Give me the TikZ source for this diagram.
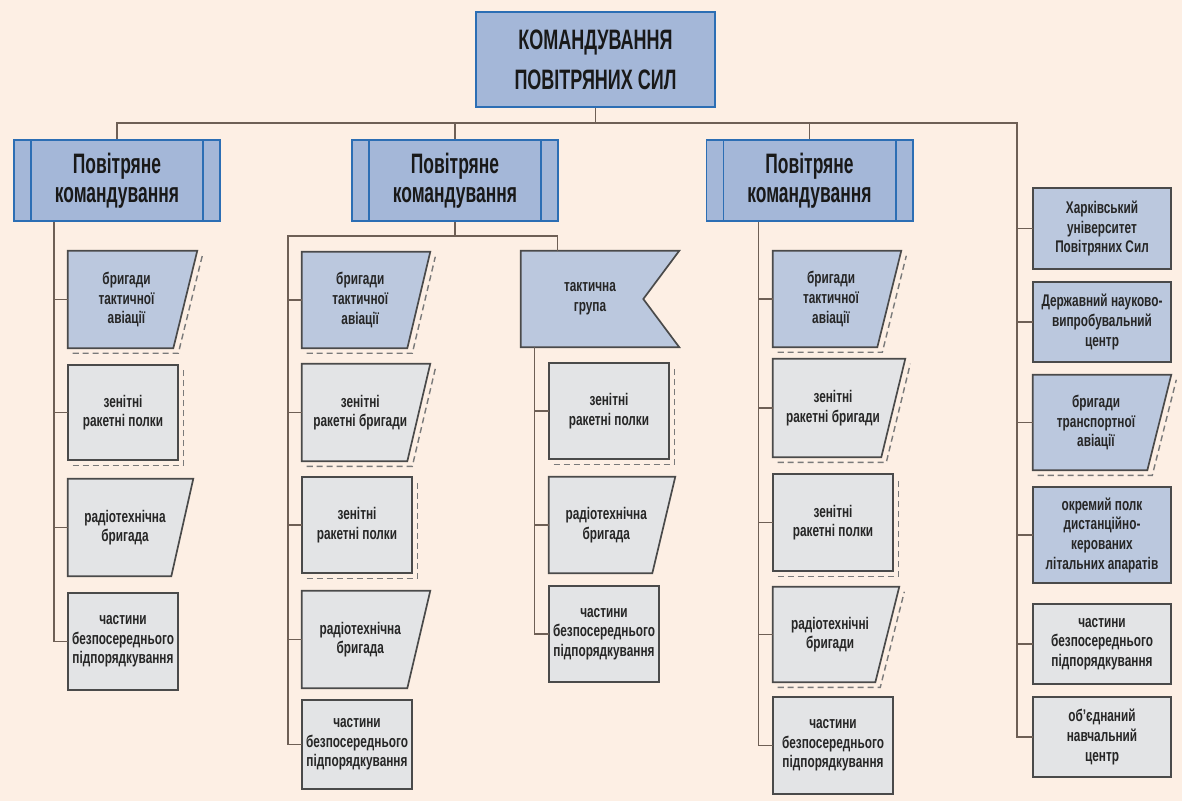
\documentclass[tikz,border=0pt]{standalone}
\usepackage{fontspec}
\usepackage{xcolor}
\usetikzlibrary{positioning, backgrounds}
\newfontfamily\headfont[FakeStretch=0.64]{Liberation Sans}
\newfontfamily\pkfont[FakeStretch=0.62]{Liberation Sans}
\newfontfamily\boxfont[FakeStretch=0.7]{Liberation Sans}
\definecolor{paper}{HTML}{FDEFE4}
\definecolor{pkfill}{HTML}{A4B7D8}
\definecolor{edgeblue}{HTML}{2C6EB4}
\definecolor{lblue}{HTML}{BBC8DE}
\definecolor{lgrey}{HTML}{E3E4E6}
\definecolor{edgegrey}{HTML}{4A4A4A}
\definecolor{linkbrown}{HTML}{6E5F55}
\definecolor{ghostgrey}{HTML}{7A7A7A}

\begin{document}
\begin{tikzpicture}[x=0.025cm, y=-0.025cm,
    sz/.style 2 args={minimum width=#1*0.7113pt, minimum height=#2*0.7113pt},
    hq/.style={draw=edgeblue, fill=pkfill, line width=1.4pt, inner sep=0pt, align=center,
        text=black!90, font=\headfont\bfseries\fontsize{20}{28.5}\selectfont},
    pk/.style={hq, font=\pkfont\bfseries\fontsize{20}{20.5}\selectfont,
        path picture={\draw[edgeblue, line width=1.4pt]
            ([xshift=12.1pt]path picture bounding box.north west) -- ([xshift=12.1pt]path picture bounding box.south west)
            ([xshift=-12.1pt]path picture bounding box.north east) -- ([xshift=-12.1pt]path picture bounding box.south east);}},
    item/.style={inner sep=0pt, align=center, text=black!85, font=\boxfont\bfseries\fontsize{12}{14}\selectfont},
    box/.style={draw=edgegrey, line width=1.2pt},
    ghost/.style={draw=ghostgrey, line width=1pt, dash pattern=on 4.3pt off 2.8pt},
    link/.style={draw=linkbrown, line width=1pt}]

    \useasboundingbox (0,0) rectangle (1182,801);

    \node[hq, sz={239}{95}] (hq) at (595.5,59.5) {КОМАНДУВАННЯ\\ПОВІТРЯНИХ СИЛ};
    \node[pk, sz={206}{81}] (pk1) at (117,180.5) {Повітряне\\командування};
    \node[pk, sz={206}{81}] (pk2) at (455,180.5) {Повітряне\\командування};
    \node[pk, sz={206}{81}] (pk3) at (809.5,180.5) {Повітряне\\командування};

    % first air command
    \node[item, sz={117}{97}] (c1a) at (126.5,299.5) {бригади\\тактичної\\авіації};
    \node[item, sz={110}{95}] (c1b) at (123,412.5) {зенітні\\ракетні полки};
    \node[item, sz={114}{97}] (c1c) at (125,527.5) {радіотехнічна\\бригада};
    \node[item, sz={110}{97}] (c1d) at (123,641.5) {частини\\безпосереднього\\підпорядкування};

    % second air command
    \node[item, sz={116.5}{96}] (c2a) at (360.25,300) {бригади\\тактичної\\авіації};
    \node[item, sz={116.5}{97}] (c2b) at (360.25,412.5) {зенітні\\ракетні бригади};
    \node[item, sz={110}{96}] (c2c) at (357,525) {зенітні\\ракетні полки};
    \node[item, sz={116.5}{97}] (c2d) at (360.25,639.5) {радіотехнічна\\бригада};
    \node[item, sz={110}{89}] (c2e) at (357,744.5) {частини\\безпосереднього\\підпорядкування};

    \node[item, sz={138}{96}] (tg) at (590,299) {тактична\\група};
    \node[item, sz={120}{96}] (t1) at (609,411) {зенітні\\ракетні полки};
    \node[item, sz={114.5}{96}] (t2) at (606.25,525) {радіотехнічна\\бригада};
    \node[item, sz={110}{96}] (t3) at (604,634) {частини\\безпосереднього\\підпорядкування};

    % third air command
    \node[item, sz={116}{96}] (c3a) at (831,299) {бригади\\тактичної\\авіації};
    \node[item, sz={120}{98}] (c3b) at (833,408) {зенітні\\ракетні бригади};
    \node[item, sz={120}{97}] (c3c) at (833,522.5) {зенітні\\ракетні полки};
    \node[item, sz={114}{95}] (c3d) at (830,634.5) {радіотехнічні\\бригади};
    \node[item, sz={120}{97}] (c3e) at (833,745.5) {частини\\безпосереднього\\підпорядкування};

    % directly under the command
    \node[item, sz={138}{81}] (khnu) at (1102,228.5) {Харківський\\університет\\Повітряних Сил};
    \node[item, sz={138}{80}] (dnvc) at (1102,322) {Державний науково-\\випробувальний\\центр};
    \node[item, sz={126}{95}] (bta) at (1096,422.5) {бригади\\транспортної\\авіації};
    \node[item, sz={138}{96}] (opdla) at (1102,535) {окремий полк\\дистанційно-\\керованих\\літальних апаратів};
    \node[item, sz={138}{80}] (rcbp) at (1102,644) {частини\\безпосереднього\\підпорядкування};
    \node[item, sz={138}{80}] (onc) at (1102,737) {об’єднаний\\навчальний\\центр};

    \coordinate (rb) at (1017,123);
    \coordinate (s1) at ([shift={(41,0)}]pk1.south west);
    \coordinate (s2) at (288,236);
    \coordinate (s3) at ([shift={(14,0)}]tg.south west);
    \coordinate (s4) at ([shift={(53,0)}]pk3.south west);

    \draw[link] (hq.south) -- (hq.south |- rb);
    \draw[link] (pk1.north) |- (rb) |- (onc.west);
    \draw[link] (pk2.north) -- (pk2.north |- rb);
    \draw[link] (pk3.north) -- (pk3.north |- rb);
    \foreach \n in {khnu, dnvc, bta, opdla, rcbp}
        \draw[link] (rb |- \n.west) -- (\n.west);

    \draw[link] (s1) |- (c1d.west);
    \foreach \n in {c1a, c1b, c1c}
        \draw[link] (s1 |- \n.west) -- (\n.west);

    \draw[link] (pk2.south) |- (s2) |- (c2e.west);
    \draw[link] (pk2.south |- s2) -| ([shift={(37,0)}]tg.north west);
    \foreach \n in {c2a, c2b, c2c, c2d}
        \draw[link] (s2 |- \n.west) -- (\n.west);

    \draw[link] (s3) |- (t3.west);
    \foreach \n in {t1, t2}
        \draw[link] (s3 |- \n.west) -- (\n.west);

    \draw[link] (s4) |- (c3e.west);
    \foreach \n in {c3a, c3b, c3c, c3d}
        \draw[link] (s4 |- \n.west) -- (\n.west);

    \begin{scope}[on background layer]
        \fill[paper] (0,0) rectangle (1182,801);
        \foreach \n/\s in {c1a/12, c1b/0, c2a/11.5, c2b/11.5, c2c/0, t1/0, c3a/12, c3b/12, c3c/0, c3d/12, bta/12}
            \draw[ghost] ([shift={(5,5)}]\n.south west) -- ([shift={(5-\s,5)}]\n.south east) -- ([shift={(5+\s,5)}]\n.north east);
        \foreach \n/\s/\c in {c1a/12/lblue, c1b/0/lgrey, c1c/11/lgrey, c1d/0/lgrey,
                c2a/11.5/lblue, c2b/11.5/lgrey, c2c/0/lgrey, c2d/11.5/lgrey, c2e/0/lgrey,
                t1/0/lgrey, t2/11.5/lgrey, t3/0/lgrey,
                c3a/12/lblue, c3b/12/lgrey, c3c/0/lgrey, c3d/12/lgrey, c3e/0/lgrey,
                khnu/0/lblue, dnvc/0/lblue, bta/12/lblue, opdla/0/lblue, rcbp/0/lgrey, onc/0/lgrey}
            \filldraw[box, fill=\c] (\n.north west) -- ([shift={(\s,0)}]\n.north east)
                -- ([shift={(-\s,0)}]\n.south east) -- (\n.south west) -- cycle;
        \filldraw[box, fill=lblue] (tg.north west) -- ([shift={(20,0)}]tg.north east)
            -- ([shift={(-16,0)}]tg.east) -- ([shift={(20,0)}]tg.south east) -- (tg.south west) -- cycle;
    \end{scope}
\end{tikzpicture}
\end{document}
